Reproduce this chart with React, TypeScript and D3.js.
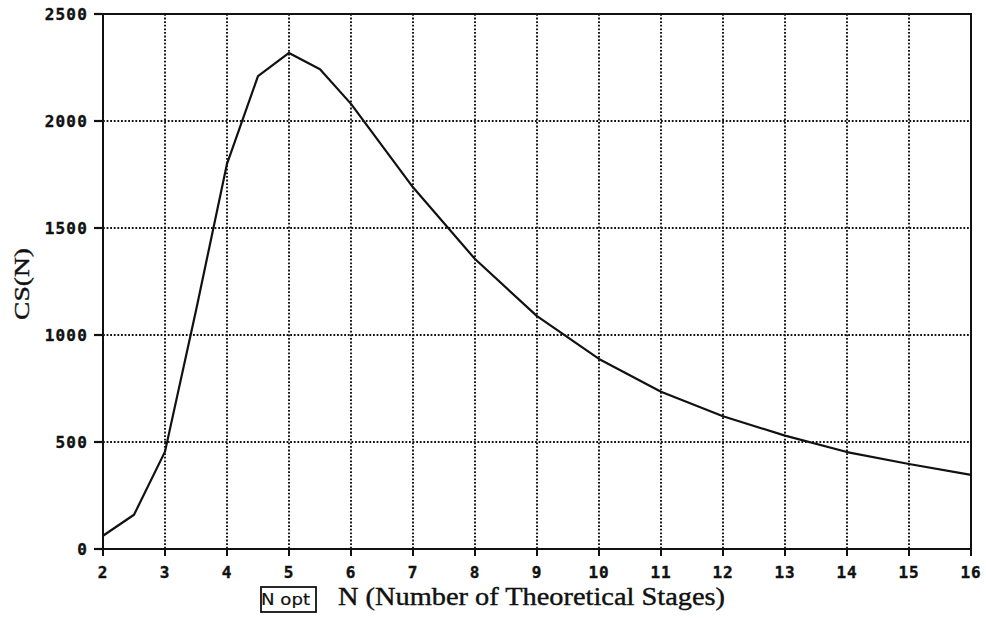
import React from "react";
import * as d3 from "d3";

const stagesN = [2, 2.5, 3, 3.5, 4, 4.5, 5, 5.5, 6, 7, 8, 9, 10, 11, 12, 13, 14, 15, 16];
const csValues = [62, 160, 455, 1115, 1800, 2210, 2318, 2242, 2080, 1690, 1355, 1088, 888, 735, 620, 530, 453, 397, 346];
const xTicks = [2, 3, 4, 5, 6, 7, 8, 9, 10, 11, 12, 13, 14, 15, 16];
const yTicks = [0, 500, 1000, 1500, 2000, 2500];
const xLabel = "N (Number of Theoretical Stages)";
const yLabel = "CS(N)";
const boxLabel = "N opt";

const W = 986;
const H = 621;
const left = 103;
const right = 971;
const top = 14;
const bottom = 549;

export default function App() {
  const x = d3.scaleLinear().domain([2, 16]).range([left, right]);
  const y = d3.scaleLinear().domain([0, 2500]).range([bottom, top]);
  const pts = stagesN.map((n, i) => [n, csValues[i]] as [number, number]);
  const line = d3
    .line<[number, number]>()
    .x((d) => x(d[0]))
    .y((d) => y(d[1]));
  const ink = "#111";
  const tickFont = "'DejaVu Sans Mono', monospace";
  return (
    <svg
      width={W}
      height={H}
      style={{ position: "absolute", left: 0, top: 0, background: "#fff" }}
    >
      <rect x={0} y={0} width={W} height={H} fill="#fff" />
      {/* grid */}
      {xTicks.slice(1, -1).map((t) => (
        <line
          key={"gx" + t}
          x1={x(t)}
          x2={x(t)}
          y1={top}
          y2={bottom}
          stroke={ink}
          strokeWidth={1.9}
          strokeDasharray="1.8,1.8"
        />
      ))}
      {yTicks.slice(1, -1).map((t) => (
        <line
          key={"gy" + t}
          x1={left}
          x2={right}
          y1={y(t)}
          y2={y(t)}
          stroke={ink}
          strokeWidth={1.9}
          strokeDasharray="1.8,1.8"
        />
      ))}
      {/* frame */}
      <rect
        x={left}
        y={top}
        width={right - left}
        height={bottom - top}
        fill="none"
        stroke={ink}
        strokeWidth={2}
      />
      {/* y ticks */}
      {yTicks.map((t) => (
        <g key={"yt" + t}>
          <line x1={left - 9} x2={left} y1={y(t)} y2={y(t)} stroke={ink} strokeWidth={2.2} />
          <text
            x={88}
            y={y(t)}
            textAnchor="end"
            dominantBaseline="central"
            fontFamily={tickFont}
            fontWeight="bold"
            fontSize={16}
            letterSpacing={1.2}
            stroke={ink}
            strokeWidth={0.4}
            fill={ink}
          >
            {t}
          </text>
        </g>
      ))}
      {/* x ticks */}
      {xTicks.map((t) => (
        <g key={"xt" + t}>
          <line x1={x(t)} x2={x(t)} y1={bottom} y2={bottom + 7} stroke={ink} strokeWidth={2} />
          <text
            x={x(t)}
            y={578}
            textAnchor="middle"
            fontFamily={tickFont}
            fontWeight="bold"
            fontSize={16}
            letterSpacing={0.8}
            stroke={ink}
            strokeWidth={0.4}
            fill={ink}
          >
            {t}
          </text>
        </g>
      ))}
      {/* curve */}
      <path d={line(pts) || ""} fill="none" stroke={ink} strokeWidth={2.2} strokeLinejoin="round" />
      {/* y label */}
      <text
        transform="translate(29,284) rotate(-90)"
        textAnchor="middle"
        fontFamily="'Liberation Serif', serif"
        fontSize={22}
        textLength={72}
        lengthAdjust="spacingAndGlyphs"
        stroke={ink}
        strokeWidth={0.4}
        fill={ink}
      >
        {yLabel}
      </text>
      {/* x label */}
      <text
        x={338}
        y={605}
        fontFamily="'Liberation Serif', serif"
        fontSize={25}
        textLength={387}
        lengthAdjust="spacingAndGlyphs"
        stroke={ink}
        strokeWidth={0.4}
        fill={ink}
      >
        {xLabel}
      </text>
      {/* N opt box */}
      <rect x={261} y={587} width={55} height={25} fill="#fff" stroke={ink} strokeWidth={1.8} />
      <text
        x={261}
        y={605}
        fontFamily="'DejaVu Sans', sans-serif"
        fontSize={16}
        textLength={49}
        lengthAdjust="spacingAndGlyphs"
        stroke={ink}
        strokeWidth={0.2}
        fill={ink}
      >
        {boxLabel}
      </text>
    </svg>
  );
}
